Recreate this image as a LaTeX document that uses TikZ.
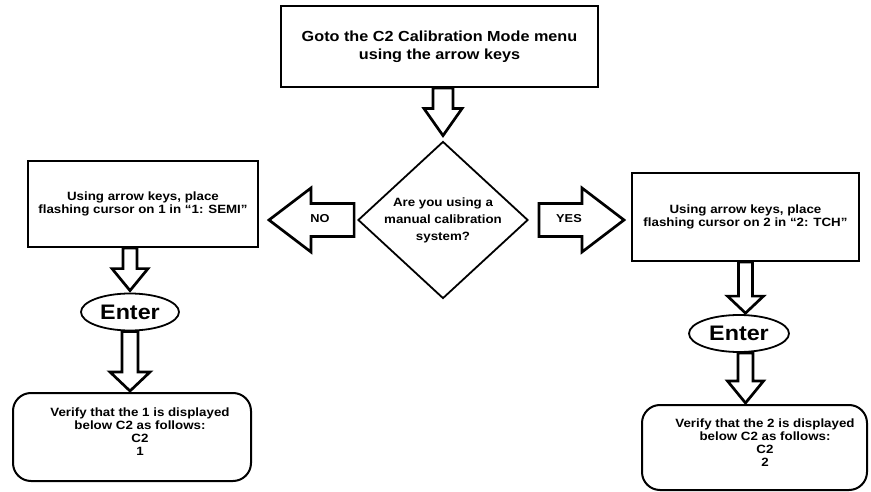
\documentclass[tikz,border=0pt]{standalone}
\usepackage{fontspec}
\newfontfamily\af{Liberation Sans}[FakeStretch=1.11]
\usetikzlibrary{calc,shapes.geometric}
\newcommand\vblk[5]{\draw[blk] let \p1=#1, \p2=#2 in
  ({\x1-#3},{\y1}) -- ({\x1-#3},{\y2+#5}) -- ({\x1-#4},{\y2+#5}) -- ({\x1},{\y2}) --
  ({\x1+#4},{\y2+#5}) -- ({\x1+#3},{\y2+#5}) -- ({\x1+#3},{\y1}) -- cycle;}
\newcommand\hblk[5]{\draw[blk] let \p1=#1, \p2=#2 in
  ({\x1},{\y1+#3}) -- ({\x2-1*#5},{\y1+#3}) -- ({\x2-1*#5},{\y1+#4}) -- ({\x2},{\y1}) --
  ({\x2-1*#5},{\y1-#4}) -- ({\x2-1*#5},{\y1-#3}) -- ({\x1},{\y1-#3}) -- cycle;}
\begin{document}
\begin{tikzpicture}[x=1pt,y=-1pt,
  box/.style={draw, line width=2pt, inner sep=0pt, align=center, font=\af\bfseries\fontsize{12}{13.3}\selectfont},
  rbx/.style={draw, line width=2pt, inner sep=0pt, rounded corners=18pt},
  dec/.style={draw, diamond, line width=1.8pt, inner sep=0pt},
  ent/.style={draw, ellipse, line width=1.8pt, inner sep=0pt, font=\af\bfseries\fontsize{21}{22}\selectfont},
  blk/.style={draw, line width=2.7pt, fill=white},
  txt/.style={align=center, inner sep=0pt, font=\af\bfseries\fontsize{12}{13.5}\selectfont},
  vtxt/.style={align=center, inner sep=0pt, font=\af\bfseries\fontsize{12}{13}\selectfont}]
\useasboundingbox (0,0) rectangle (871,492);

% top box
\node[box, minimum width=317pt, minimum height=81pt, font=\af\bfseries\fontsize{14.6}{18}\selectfont] (top) at (439.5,46.5) {Goto the C2 Calibration Mode menu\\using the arrow keys};

% decision
\node[dec, minimum width=170pt, minimum height=157pt] (dia) at (443,220) {};
\node[txt, font=\af\bfseries\fontsize{12}{17}\selectfont] (diatxt) at (dia.center) {Are you using a\\manual calibration\\system?};

% left branch
\node[box, minimum width=230pt, minimum height=86pt] (lbox) at (143,204) {Using arrow keys, place\\flashing cursor on 1 in “1: SEMI”};
\node[ent, minimum width=98pt, minimum height=37pt] (lent) at (130,312) {Enter};
\node[rbx, minimum width=238pt, minimum height=88pt] (lver) at (132,437) {};
\node[vtxt] (lvertxt) at (140,432) {Verify that the 1 is displayed\\below C2 as follows:\\C2\\1};

% right branch
\node[box, minimum width=227pt, minimum height=88pt] (rbox) at (745.5,217) {Using arrow keys, place\\flashing cursor on 2 in “2: TCH”};
\node[ent, minimum width=100pt, minimum height=37pt] (rent) at (739,333.5) {Enter};
\node[rbx, minimum width=225pt, minimum height=85pt] (rver) at (754.5,447.5) {};
\node[vtxt] (rvertxt) at (765,443) {Verify that the 2 is displayed\\below C2 as follows:\\C2\\2};

% block arrows
\vblk{(top.south -| dia.north)}{($(dia.north)+(0,-5)$)}{10pt}{19pt}{27pt}
\hblk{($(dia.west)+(-3,0)$)}{($(lbox.east |- dia.west)+(10,0)$)}{16.5pt}{32pt}{-42pt}
\hblk{($(dia.east)+(10,0)$)}{($(rbox.west |- dia.east)+(-7,0)$)}{16.5pt}{32pt}{42pt}
\node[txt, font=\af\bfseries\fontsize{11.5}{13}\selectfont] (no) at (320,219) {NO};
\node[txt, font=\af\bfseries\fontsize{11.5}{13}\selectfont] (yes) at (569,219) {YES};

\vblk{(lent.north |- lbox.south)}{($(lent.north)+(0,-2)$)}{7pt}{18pt}{22pt}
\vblk{(lent.south)}{($(lent.south |- lver.north)+(0,-1)$)}{8pt}{20pt}{19pt}
\vblk{(rbox.south)}{($(rbox.south |- rent.north)+(0,-1)$)}{7pt}{18pt}{17pt}
\vblk{(rbox.south |- rent.south)}{($(rbox.south |- rver.north)+(0,-1)$)}{7.5pt}{18pt}{22pt}
\end{tikzpicture}
\end{document}
